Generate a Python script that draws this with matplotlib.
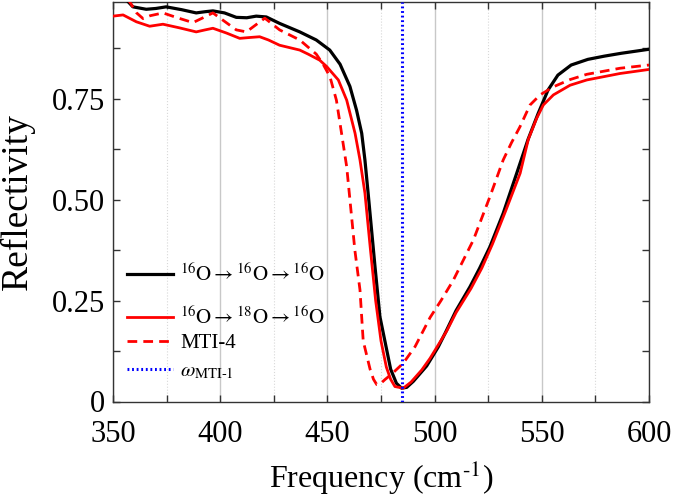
import numpy as np
import matplotlib
matplotlib.use("Agg")
import matplotlib.pyplot as plt
from matplotlib.ticker import MultipleLocator, FixedLocator, FixedFormatter

plt.rcParams['font.family'] = ['Liberation Serif', 'DejaVu Serif']
plt.rcParams['mathtext.fontset'] = 'stix'

# ---- data ----
f_black = [350, 357, 359.3, 365.5, 370, 374.8, 382, 388.8, 393, 396.6, 402, 407.5, 412.4, 416.8, 421.5,
           427.7, 437.1, 444.8, 451.1, 455.9, 460.5, 463.6, 466, 467.5, 469.1, 472.2, 474.5, 477,
           479.5, 482.2, 484.6, 487, 490.1, 496.3, 501.7, 505, 510, 516.5, 521, 525.8, 532, 538.3,
           543.6, 548.3, 552.9, 557.5, 563.7, 571.5, 579.2, 587, 600]
r_black = [1.03, 0.990, 0.977, 0.971, 0.973, 0.977, 0.970, 0.962, 0.965, 0.967, 0.962, 0.951, 0.950,
           0.954, 0.952, 0.936, 0.915, 0.895, 0.870, 0.835, 0.780, 0.721, 0.664, 0.598, 0.510, 0.334,
           0.210, 0.145, 0.080, 0.045, 0.033, 0.035, 0.050, 0.088, 0.135, 0.170, 0.225, 0.284, 0.330,
           0.383, 0.466, 0.565, 0.649, 0.713, 0.771, 0.808, 0.833, 0.847, 0.855, 0.862, 0.872]

f_red = [350, 354.7, 360.9, 367.1, 373.3, 381, 388.8, 393, 396.6, 403, 409.1, 413.5, 418.4, 422.5, 427.7,
         437.1, 441, 446.4, 449.7, 455.1, 459, 462.9, 465.2, 467.5, 470, 472.5, 475, 477.5, 479.5,
         481.5, 485.4, 489, 494, 497.9, 501.7, 505.7, 510, 517, 522, 527, 533, 539.9, 543.7, 547.6,
         550.7, 555.4, 563.2, 571, 586.5, 600]
r_red = [0.954, 0.957, 0.940, 0.929, 0.934, 0.925, 0.915, 0.920, 0.924, 0.912, 0.899, 0.901, 0.903,
         0.895, 0.882, 0.870, 0.860, 0.845, 0.829, 0.796, 0.746, 0.664, 0.598, 0.516, 0.380, 0.250,
         0.150, 0.085, 0.055, 0.037, 0.033, 0.048, 0.078, 0.107, 0.140, 0.175, 0.220, 0.280, 0.330,
         0.390, 0.470, 0.565, 0.649, 0.701, 0.734, 0.759, 0.783, 0.796, 0.812, 0.822]

f_mti4 = [350, 357.7, 361, 364, 367.3, 373.3, 380, 387.3, 392, 396.6, 401, 407.5, 412.2, 416, 420.8,
          427.7, 437.1, 444.8, 448, 451.2, 454.2, 456.6, 459, 460.5, 462.8, 465.2, 466.7, 469.9,
          471.5, 473.0, 474.5, 477, 480, 485.4, 490.9, 497.9, 503, 508.7, 518.1, 525.8, 532, 535.8,
          539.8, 544.5, 549.2, 555.4, 563.2, 571, 586.5, 600]
r_mti4 = [1.06, 0.990, 0.962, 0.948, 0.955, 0.962, 0.950, 0.938, 0.950, 0.962, 0.945, 0.920, 0.915,
          0.930, 0.949, 0.920, 0.895, 0.860, 0.835, 0.804, 0.746, 0.664, 0.581, 0.500, 0.375, 0.276,
          0.150, 0.080, 0.055, 0.042, 0.043, 0.055, 0.068, 0.095, 0.136, 0.208, 0.250, 0.300, 0.400,
          0.507, 0.598, 0.640, 0.680, 0.734, 0.759, 0.779, 0.797, 0.810, 0.825, 0.833]

omega_mti1 = 485.0

xticks = [350, 400, 450, 500, 550, 600]
yticks = [0, 0.25, 0.50, 0.75]
ytick_labels = ['0', '0.25', '0.50', '0.75']

labels = [r'$^{16}\mathrm{O}\rightarrow^{16}\mathrm{O}\rightarrow^{16}\mathrm{O}$',
          r'$^{16}\mathrm{O}\rightarrow^{18}\mathrm{O}\rightarrow^{16}\mathrm{O}$',
          'MTI-4',
          r'$\omega_{\mathrm{MTI}\text{-}1}$']

# ---- figure ----
fig = plt.figure(figsize=(6.75, 4.96), dpi=100)
ax = fig.add_axes([113/675, 1-401.5/496, 536/675, 399.5/496])

l1, = ax.plot(f_black, r_black, color='black', lw=2.3, label=labels[0], zorder=3)
l2, = ax.plot(f_red, r_red, color='red', lw=2.0, label=labels[1], zorder=4)
l3, = ax.plot(f_mti4, r_mti4, color='red', lw=2.0, ls=(0, (3.5, 2.2)), label=labels[2], zorder=3)
l4 = ax.axvline(omega_mti1, color='blue', lw=2.2, ls=(0, (0.6, 0.9)), label=labels[3], zorder=5)

ax.set_xlim(350, 600)
ax.set_ylim(0, 0.989)

ax.xaxis.set_major_locator(FixedLocator(xticks))
ax.xaxis.set_minor_locator(MultipleLocator(25))
ax.yaxis.set_major_locator(FixedLocator(yticks))
ax.yaxis.set_major_formatter(FixedFormatter(ytick_labels))
ax.yaxis.set_minor_locator(MultipleLocator(0.125))

ax.grid(True, axis='x', which='major', color='#c8c8c8', lw=1.0, ls='-', zorder=0)
ax.grid(True, axis='x', which='minor', color='#d8d8d8', lw=0.8, ls=':', zorder=0)
ax.set_axisbelow(True)

ax.tick_params(which='both', direction='in', top=True, right=True, width=1.0, color='#333333')
ax.tick_params(which='major', length=5, labelsize=22)
ax.tick_params(axis='x', which='major', pad=13)
ax.tick_params(axis='y', which='major', pad=6)
ax.tick_params(which='minor', length=5)
for s in ax.spines.values():
    s.set_linewidth(1.0)
    s.set_color('#333333')

ax.set_xlabel(r'Frequency (cm$^{\text{-}1}$)', fontsize=23, labelpad=7)
ax.set_ylabel('Reflectivity', fontsize=27, labelpad=12)

common = dict(frameon=False, fontsize=15, handlelength=2.2, handletextpad=0.35,
              borderaxespad=0, borderpad=0)
legA = ax.legend([l1, l2], labels[:2], loc='center left', bbox_to_anchor=(0.026, 0.263),
                 labelspacing=1.0, **common)
ax.add_artist(legA)
legB = ax.legend([l3, l4], labels[2:], loc='center left', bbox_to_anchor=(0.026, 0.111),
                 labelspacing=0.4, **common)

fig.savefig('out.png', dpi=100)
